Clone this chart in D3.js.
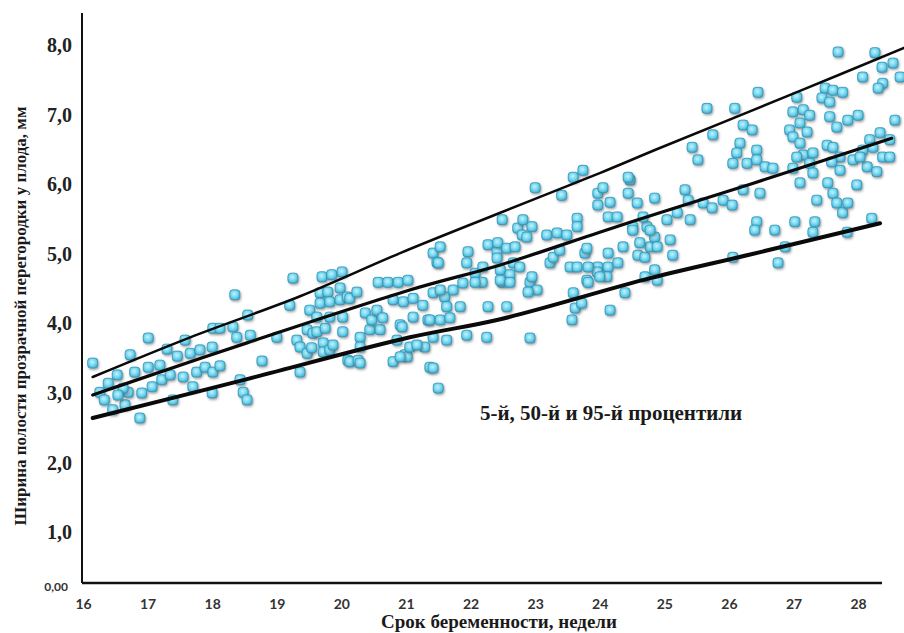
<!DOCTYPE html>
<html lang="ru">
<head>
<meta charset="UTF-8">
<title>Ширина полости прозрачной перегородки</title>
<script src="https://d3js.org/d3.v7.min.js"></script>
<style>
  body { margin: 0; background: #fff; }
  svg { display: block; }
  .ylab { font-family: "Liberation Serif", "Times New Roman", serif; font-weight: bold; font-size: 20px; fill: #222; }
  .xlab { font-family: "Lato", "Open Sans", sans-serif; font-weight: bold; font-size: 14px; fill: #333; }
  .title { font-family: "Liberation Serif", "Times New Roman", serif; font-weight: bold; fill: #1a1a1a; }
</style>
</head>
<body>
<svg width="904" height="633"></svg>
<script>
// week of pregnancy / septum width (mm)
const weeks = [
  16.15,16.26,16.33,16.46,16.53,16.65,16.73,16.70,16.88,16.91,17.01,17.01,17.07,17.19,17.22,17.30,17.35,17.39,17.46,17.55,
  17.58,17.66,17.70,17.76,17.81,17.89,18.00,18.00,18.01,18.12,18.01,18.12,18.32,18.35,18.38,18.43,18.48,18.54,18.55,18.59,
  18.77,16.39,16.62,16.80,16.54,
  19.00,19.20,19.25,19.31,19.36,19.36,19.47,19.47,19.51,19.54,19.56,19.62,19.62,19.67,19.67,19.70,19.72,19.72,19.75,19.79,
  19.82,19.82,19.82,19.85,19.87,19.98,19.98,20.01,20.02,20.02,20.09,20.10,20.13,20.13,20.24,20.26,20.29,20.29,20.29,20.37,
  20.44,20.47,20.55,20.57,20.60,20.64,20.72,20.80,20.80,20.86,20.88,20.91,20.94,20.96,20.98,21.02,21.03,21.06,21.11,21.11,
  21.26,21.29,21.34,21.37,21.42,21.48,
  23.00,23.59,23.74,23.41,22.49,22.73,22.81,22.95,22.80,22.87,23.18,23.34,23.49,23.65,23.65,23.97,24.05,24.16,23.97,24.13,
  24.27,24.47,24.44,24.58,24.85,21.53,21.50,21.96,21.94,22.07,22.27,22.41,22.42,22.56,22.69,22.41,22.19,22.46,22.66,22.76,
  22.61,22.49,22.92,23.03,22.89,23.23,23.28,23.38,23.54,23.65,23.77,23.80,23.97,24.13,24.13,24.28,24.11,24.36,24.59,24.70,
  24.78,24.85,24.51,24.73,21.42,21.60,21.73,21.88,21.63,21.84,21.37,21.53,21.68,21.42,21.63,21.94,22.25,22.27,22.56,22.92,
  22.95,23.59,23.62,23.57,23.72,24.16,24.39,23.96,23.80,21.53,22.18,22.46,22.61,22.07,21.17,20.91,21.42,21.50,23.82,24.00,
  23.82,24.85,24.89,24.70,25.13,26.06,26.76,
  27.69,28.26,28.54,28.37,28.65,28.38,28.31,28.07,26.45,27.05,27.49,27.61,27.76,27.44,27.56,25.66,26.09,26.99,27.15,27.25,
  27.56,27.84,28.00,26.94,27.10,27.21,27.67,28.57,26.22,26.36,25.75,25.43,25.52,26.17,26.12,26.06,26.28,26.43,26.43,26.56,
  26.68,26.99,27.10,27.15,27.30,27.05,27.25,26.99,27.52,27.61,27.72,27.59,27.72,27.92,28.07,28.18,28.34,28.49,28.23,28.38,
  28.14,28.29,28.49,28.03,27.10,27.30,27.53,27.98,26.22,26.48,24.44,25.32,25.37,25.60,25.74,25.91,26.05,24.67,24.51,24.78,
  25.04,25.20,25.40,24.62,24.89,25.09,26.43,26.40,26.71,27.02,27.33,27.36,27.61,27.67,27.76,27.84,27.83,28.21,26.87,27.30
];
const widths = [
  3.43,3.01,2.90,2.76,3.26,2.83,3.55,3.01,2.64,3.00,3.79,3.37,3.09,3.40,3.19,3.63,3.26,2.90,3.53,3.23,
  3.76,3.57,3.09,3.30,3.62,3.37,3.66,3.00,3.30,3.39,3.93,3.93,3.95,4.41,3.80,3.19,3.01,2.90,4.12,3.83,
  3.46,3.14,3.07,3.30,2.97,
  3.80,4.26,4.65,3.76,3.66,3.30,3.91,3.57,4.19,3.65,3.86,4.09,3.88,4.44,4.29,4.67,3.72,3.59,3.93,4.45,
  4.31,4.09,3.62,4.70,3.69,4.51,4.34,4.74,4.09,3.88,4.38,3.47,4.36,3.45,4.45,3.47,3.80,3.66,3.43,4.15,
  3.91,4.05,4.19,4.59,3.91,4.08,4.59,4.34,3.45,3.76,4.59,3.98,3.95,4.31,3.55,3.52,4.62,3.66,4.36,4.09,
  4.26,3.66,4.05,3.37,5.01,4.88,
  5.95,6.10,6.20,5.84,5.49,5.37,5.49,5.39,5.27,5.24,5.27,5.30,5.27,5.51,5.39,5.87,5.95,5.74,5.70,5.53,
  5.53,6.06,5.87,5.73,5.80,5.10,4.87,5.03,4.87,4.72,5.13,5.03,5.16,5.08,5.10,4.94,4.81,4.77,4.87,4.81,
  4.70,4.59,4.59,4.48,4.45,4.87,4.95,5.05,4.81,4.81,5.01,5.08,4.81,5.01,4.81,4.87,4.67,5.10,4.98,4.95,
  5.10,5.24,5.39,5.39,4.44,4.38,4.48,4.58,4.24,4.24,4.05,4.05,4.08,3.80,3.76,3.83,3.80,4.24,4.24,3.79,
  4.67,4.44,4.22,4.05,4.29,4.19,4.44,4.74,4.62,4.48,4.59,4.62,4.59,4.59,3.69,3.52,3.36,3.07,4.59,4.67,
  4.81,4.77,4.62,4.67,4.98,4.95,4.87,
  7.90,7.89,7.74,7.68,7.54,7.45,7.38,7.54,7.32,7.25,7.38,7.35,7.32,7.24,7.18,7.09,7.09,7.04,7.07,6.99,
  6.97,6.92,6.99,6.78,6.88,6.75,6.82,6.92,6.85,6.78,6.71,6.53,6.35,6.59,6.45,6.30,6.30,6.49,6.35,6.25,
  6.23,6.68,6.59,6.42,6.45,6.39,6.30,6.23,6.56,6.53,6.39,6.32,6.20,6.35,6.49,6.64,6.74,6.64,6.53,6.39,
  6.25,6.18,6.39,6.39,6.02,6.16,6.02,5.99,5.92,5.87,6.10,5.92,5.77,5.73,5.66,5.77,5.70,5.53,5.34,5.34,
  5.49,5.59,5.49,5.16,5.10,5.20,5.46,5.34,5.34,5.46,5.46,5.77,5.87,5.73,5.59,5.73,5.31,5.51,5.10,5.31
];

// percentile curves
const p95Weeks = [16.15, 17.66, 19.36, 20.91, 22.46, 24.00, 24.93, 27.10, 28.71];
const p95 = [3.23, 3.80, 4.39, 5.01, 5.59, 6.16, 6.52, 7.34, 7.96];
const p50Weeks = [16.15, 16.46, 18.54, 21.06, 22.46, 24.00, 24.93, 26.33, 28.52];
const p50 = [2.97, 3.07, 3.72, 4.48, 4.84, 5.31, 5.59, 6.00, 6.66];
const p5Weeks = [16.15, 18.54, 21.06, 22.46, 24.78, 26.33, 28.34];
const p5 = [2.64, 3.20, 3.80, 4.06, 4.65, 4.99, 5.44];

const xTicks = [16, 17, 18, 19, 20, 21, 22, 23, 24, 25, 26, 27, 28];
const yTicks = [1, 2, 3, 4, 5, 6, 7, 8];
const yTickLabels = ["1,0", "2,0", "3,0", "4,0", "5,0", "6,0", "7,0", "8,0"];
const baseLabel = "0,00";

const svg = d3.select("svg");
const x = d3.scaleLinear().domain([16, 28.37]).range([83, 882]);
const y = d3.scaleLinear().domain([0.27, 8.46]).range([583, 13]);

const defs = svg.append("defs");
const grad = defs.append("radialGradient").attr("id", "dot").attr("cx", "45%").attr("cy", "40%").attr("r", "65%");
grad.append("stop").attr("offset", "0%").attr("stop-color", "#c4f3fc");
grad.append("stop").attr("offset", "55%").attr("stop-color", "#74d6ef");
grad.append("stop").attr("offset", "100%").attr("stop-color", "#3fa8c8");
const f = defs.append("filter").attr("id", "shadow").attr("x", "-50%").attr("y", "-50%").attr("width", "200%").attr("height", "200%");
f.append("feDropShadow").attr("dx", 1).attr("dy", 1.5).attr("stdDeviation", 1)
  .attr("flood-color", "#555").attr("flood-opacity", 0.55);

// axes
const xAxis = svg.append("g").attr("transform", `translate(0,${y.range()[0]})`)
  .call(d3.axisBottom(x).tickValues(xTicks).tickSize(0).tickPadding(16).tickFormat(d3.format("d")));
xAxis.select(".domain").attr("stroke", "#111").attr("stroke-width", 2.5).attr("d", `M${x(16) - 1},0H${x.range()[1]}`);
xAxis.selectAll("text").attr("class", "xlab").attr("font-family", null).attr("font-size", null).attr("fill", null);

const yAxis = svg.append("g").attr("transform", `translate(${x(16) - 1},0)`)
  .call(d3.axisLeft(y).tickValues(yTicks).tickSize(0).tickPadding(10).tickFormat((d, i) => yTickLabels[i]));
yAxis.select(".domain").attr("stroke", "#111").attr("stroke-width", 2).attr("d", `M0,${y.range()[1]}V${y.range()[0]}`);
yAxis.selectAll("text").attr("class", "ylab").attr("font-family", null).attr("font-size", null).attr("fill", null);

svg.append("text").attr("class", "xlab").attr("x", 68).attr("y", 591)
  .attr("text-anchor", "end").style("font-size", "12px").text(baseLabel);

// points
svg.append("g").selectAll("rect").data(weeks).join("rect")
  .attr("x", (d, i) => x(d) - 5)
  .attr("y", (d, i) => y(widths[i]) - 5)
  .attr("width", 10).attr("height", 10).attr("rx", 3)
  .attr("fill", "url(#dot)").attr("stroke", "#2f93b5").attr("stroke-width", 0.8)
  .attr("filter", "url(#shadow)");

// percentile lines
const line = d3.line().x(d => x(d[0])).y(d => y(d[1])).curve(d3.curveCatmullRom);
const curves = [
  { w: p95Weeks, v: p95, sw: 2.5 },
  { w: p50Weeks, v: p50, sw: 3.2 },
  { w: p5Weeks, v: p5, sw: 4 }
];
curves.forEach(c => {
  svg.append("path").datum(c.w.map((d, i) => [d, c.v[i]]))
    .attr("d", line).attr("fill", "none").attr("stroke", "#0a0a0a")
    .attr("stroke-width", c.sw).attr("stroke-linecap", "round");
});

// titles
svg.append("text").attr("class", "title").attr("x", 499).attr("y", 628)
  .attr("text-anchor", "middle").style("font-size", "19px").text("Срок беременности, недели");
svg.append("text").attr("class", "title").attr("transform", "translate(26,316) rotate(-90)")
  .attr("text-anchor", "middle").style("font-size", "17px")
  .text("Ширина полости прозрачной перегородки у плода, мм");
svg.append("text").attr("class", "title").attr("x", 480).attr("y", 420)
  .style("font-size", "21px").text("5-й, 50-й и 95-й процентили");
</script>
</body>
</html>
